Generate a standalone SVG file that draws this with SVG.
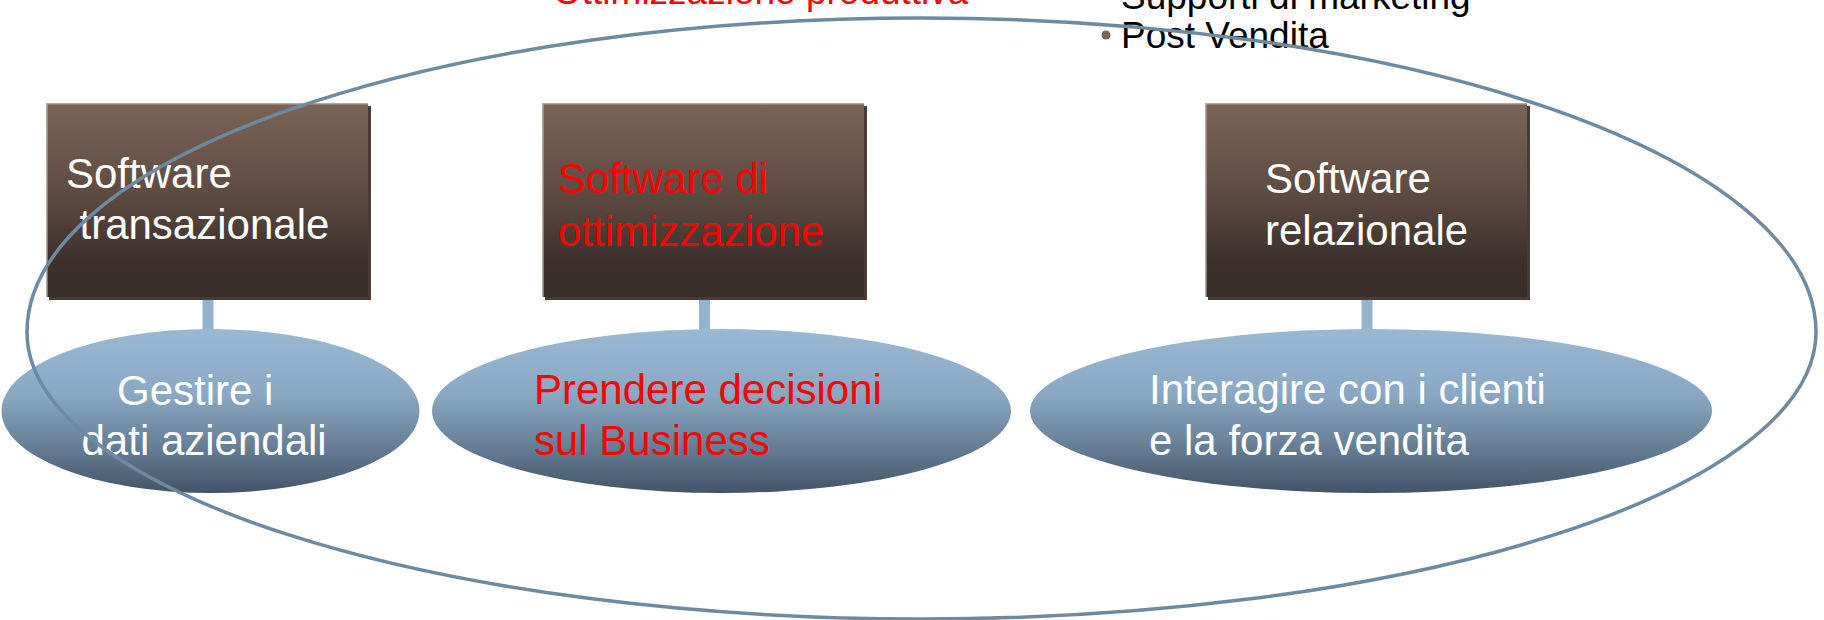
<svg xmlns="http://www.w3.org/2000/svg" width="1824" height="620" viewBox="0 0 1824 620">
  <defs>
    <linearGradient id="boxGrad" x1="0" y1="0" x2="0" y2="1">
      <stop offset="0" stop-color="#7b6357"/>
      <stop offset="0.45" stop-color="#5f4c43"/>
      <stop offset="0.8" stop-color="#3e312c"/>
      <stop offset="1" stop-color="#392d29"/>
    </linearGradient>
    <linearGradient id="ovalGrad" x1="0" y1="0" x2="0" y2="1">
      <stop offset="0" stop-color="#99b8d4"/>
      <stop offset="0.4" stop-color="#8aa8c3"/>
      <stop offset="0.72" stop-color="#657e95"/>
      <stop offset="1" stop-color="#435467"/>
    </linearGradient>
    <style>
      .txt { font-family: "Liberation Sans", Arial, sans-serif; font-size: 42px; }
      .top { font-family: "Liberation Sans", Arial, sans-serif; font-size: 37px; }
      .white { fill: #ffffff; }
      .red { fill: #ff0000; }
      .black { fill: #000000; }
      .shadow { fill: #4a3c35; }
      .box { fill: url(#boxGrad); }
      .edge { fill: none; stroke: #b9a89f; stroke-width: 1.6; }
      .oval { fill: url(#ovalGrad); }
      .stem { fill: #93b3cf; }
      .outline { fill: none; stroke: #6e8aa1; stroke-width: 3.5; }
    </style>
  </defs>

  <rect width="1824" height="620" fill="#ffffff"/>

  <!-- heading lines partly outside the top edge -->
  <g id="heading-left">
    <text class="top red" x="553" y="4">Ottimizzazione produttiva</text>
  </g>
  <g id="heading-right">
    <text class="top black" x="1121" y="9">Supporti di marketing</text>
    <circle cx="1106" cy="35" r="4.5" fill="#7b6358"/>
    <text class="top black" x="1121" y="48">Post Vendita</text>
  </g>

  <!-- vertical links between each box and its oval -->
  <g id="connectors">
    <rect class="stem" x="202.5" y="296" width="11" height="36"/>
    <rect class="stem" x="699" y="296" width="11" height="36"/>
    <rect class="stem" x="1361.5" y="296" width="11" height="36"/>
  </g>

  <!-- software boxes -->
  <g id="box-transazionale">
    <rect class="shadow" x="49" y="106" width="322" height="194"/>
    <rect class="box" x="46" y="103" width="322" height="194"/>
    <polyline class="edge" points="46.8,297 46.8,103.8 368,103.8"/>
    <text class="txt white" x="66" y="188">Software</text>
    <text class="txt white" x="79.5" y="239">transazionale</text>
  </g>
  <g id="box-ottimizzazione">
    <rect class="shadow" x="545" y="106" width="322" height="194"/>
    <rect class="box" x="542" y="103" width="322" height="194"/>
    <polyline class="edge" points="542.8,297 542.8,103.8 864,103.8"/>
    <text class="txt red" x="558" y="193">Software di</text>
    <text class="txt red" x="558" y="246">ottimizzazione</text>
  </g>
  <g id="box-relazionale">
    <rect class="shadow" x="1208" y="106" width="322" height="194"/>
    <rect class="box" x="1205" y="103" width="322" height="194"/>
    <polyline class="edge" points="1205.8,297 1205.8,103.8 1527,103.8"/>
    <text class="txt white" x="1265" y="193">Software</text>
    <text class="txt white" x="1265" y="245">relazionale</text>
  </g>

  <!-- goal ovals -->
  <g id="oval-dati">
    <ellipse class="oval" cx="210.5" cy="411" rx="209" ry="82"/>
    <text class="txt white" x="117" y="405">Gestire i</text>
    <text class="txt white" x="81.5" y="455">dati aziendali</text>
  </g>
  <g id="oval-decisioni">
    <ellipse class="oval" cx="721.5" cy="411" rx="289.5" ry="82"/>
    <text class="txt red" x="534" y="404">Prendere decisioni</text>
    <text class="txt red" x="534" y="455">sul Business</text>
  </g>
  <g id="oval-clienti">
    <ellipse class="oval" cx="1371" cy="411" rx="341" ry="82"/>
    <text class="txt white" x="1149" y="404">Interagire con i clienti</text>
    <text class="txt white" x="1149" y="455">e la forza vendita</text>
  </g>

  <!-- enclosing loop drawn over everything -->
  <g id="enclosure">
    <path class="outline" d="M 27 332 A 894.5 314 0 0 1 1816 332 A 894.5 287 0 0 1 27 332 Z"/>
  </g>
</svg>
